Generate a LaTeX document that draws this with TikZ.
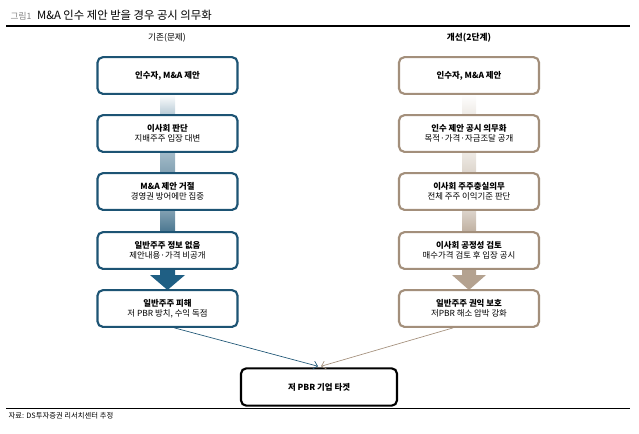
\documentclass[tikz,border=0pt]{standalone}
\usepackage{fontspec}
\setmainfont{Noto Sans CJK KR}
\usetikzlibrary{calc,arrows.meta}

\definecolor{navy}{HTML}{1D5474}
\definecolor{navylt}{HTML}{DCE7ED}
\definecolor{navydk}{HTML}{1F5F84}
\definecolor{taupe}{HTML}{A38F7B}
\definecolor{taupelt}{HTML}{EEEAE5}
\definecolor{taupedk}{HTML}{B4A290}

\tikzset{
  stepL/.style={draw=navy,line width=1.6pt,rounded corners=4pt,fill=white,
    minimum width=105pt,minimum height=27.5pt,align=center,font=\fontsize{6.3}{7.5}\selectfont},
  stepR/.style={stepL,draw=taupe},
  target/.style={stepL,draw=black,minimum width=117pt,minimum height=28pt},
  head/.style={font=\fontsize{6.5}{8}\selectfont}
}

\begin{document}
\begin{tikzpicture}[x=0.75pt,y=-0.75pt]
    \useasboundingbox (0,0) rectangle (639,433);
    % title and rules
    \node[anchor=west,font=\fontsize{8.5}{10}\selectfont] (title) at (6,15)
        {{\color{gray}\fontsize{6.5}{8}\selectfont 그림1}\enspace M\&A 인수 제안 받을 경우 공시 의무화};
    \draw[line width=0.8pt] (6,26) -- (630,26);
    \draw[line width=0.6pt] (6,408) -- (630,408);
    \node[anchor=west,font=\fontsize{5.5}{7}\selectfont] (src) at (4,416) {자료: DS투자증권 리서치센터 추정};
    \node[head] (hL) at (167,38) {기존(문제)};
    \node[head] (hR) at (469,38) {\textbf{개선(2단계)}};
    % connecting bars
    \shade[top color=white,bottom color=navylt!80!navy] (160,94) rectangle (175,115);
    \shade[top color=navylt!70!navy,bottom color=navy!55] (160,152) rectangle (175,173);
    \shade[top color=navy!55,bottom color=navy!80] (160,210) rectangle (175,232);
    \fill[navydk] (160,269) -- (175,269) -- (175,275) -- (185,275) -- (167.5,290) -- (150,275) -- (160,275) -- cycle;
    \shade[top color=white,bottom color=taupelt] (462,94) rectangle (476,115);
    \shade[top color=taupelt,bottom color=taupelt!70!taupedk] (462,152) rectangle (476,173);
    \shade[top color=taupelt!70!taupedk,bottom color=taupedk!85] (462,210) rectangle (476,232);
    \fill[taupedk] (462,269) -- (476,269) -- (476,275) -- (486,275) -- (469,290) -- (452,275) -- (462,275) -- cycle;
    % left column
    \node[stepL] (l1) at (167.5,75.5) {\textbf{인수자, M\&A 제안}};
    \node[stepL] (l2) at (167.5,133.5) {\textbf{이사회 판단}\\지배주주 입장 대변};
    \node[stepL] (l3) at (167.5,191.5) {\textbf{M\&A 제안 거절}\\경영권 방어에만 집중};
    \node[stepL] (l4) at (167.5,250.5) {\textbf{일반주주 정보 없음}\\제안내용·가격 비공개};
    \node[stepL] (l5) at (167.5,308.5) {\textbf{일반주주 피해}\\저 PBR 방치, 수익 독점};
    % right column
    \node[stepR] (r1) at (469,75.5) {\textbf{인수자, M\&A 제안}};
    \node[stepR] (r2) at (469,133.5) {\textbf{인수 제안 공시 의무화}\\목적·가격·자금조달 공개};
    \node[stepR] (r3) at (469,191.5) {\textbf{이사회 주주충실의무}\\전체 주주 이익기준 판단};
    \node[stepR] (r4) at (469,250.5) {\textbf{이사회 공정성 검토}\\매수가격 검토 후 입장 공시};
    \node[stepR] (r5) at (469,308.5) {\textbf{일반주주 권익 보호}\\저PBR 해소 압박 강화};
    % target
    \node[target] (tg) at (319,387) {\textbf{저 PBR 기업 타겟}};
    \draw[navy,line width=0.5pt,-{Straight Barb[length=3pt]}] ($(l5.south)+(7,0)$) -- ($(tg.north)+(-1,-1)$);
    \draw[taupe,line width=0.5pt,-{Straight Barb[length=3pt]}] ($(r5.south)+(-16,0)$) -- ($(tg.north)+(2,-1)$);
\end{tikzpicture}
\end{document}
